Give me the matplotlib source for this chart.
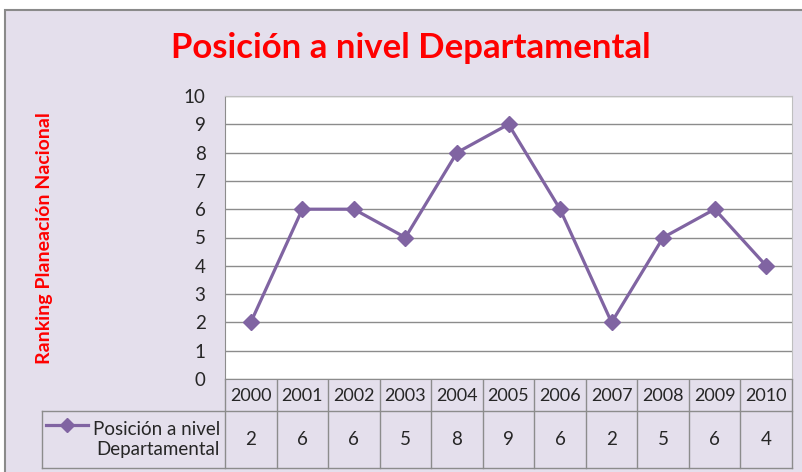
import matplotlib
matplotlib.use("Agg")
import matplotlib.pyplot as plt
from matplotlib.transforms import blended_transform_factory

years = ["2000", "2001", "2002", "2003", "2004", "2005", "2006", "2007", "2008", "2009", "2010"]
positions = [2, 6, 6, 5, 8, 9, 6, 2, 5, 6, 4]
series_name = "Posición a nivel\nDepartamental"
title = "Posición a nivel Departamental"
ylabel = "Ranking Planeación Nacional"
yticks = list(range(0, 11))

W, H = 802, 472
FONT = "Lato"
bg = "#E4DFEC"
purple = "#8064A2"
grid_c = "#8C8C8C"
txt_c = "#262626"

fig = plt.figure(figsize=(W / 100, H / 100), dpi=100)
fig.patch.set_facecolor("white")

# overlay in pixel coordinates
ov = fig.add_axes([0, 0, 1, 1], zorder=0)
ov.set_xlim(0, W)
ov.set_ylim(H, 0)
ov.axis("off")
ov.add_patch(plt.Rectangle((5, 10), W + 10, H + 10, facecolor=bg, edgecolor="#8a8a8a", lw=1.5))

# main plot
L, R, T, B = 225, 792, 96, 379
ax = fig.add_axes([L / W, (H - B) / H, (R - L) / W, (B - T) / H], zorder=2)
ax.set_facecolor("white")
x = list(range(len(years)))
ax.plot(x, positions, color=purple, lw=2.3, marker="D", ms=8.5, mec=purple, mfc=purple, zorder=3)
ax.set_xlim(-0.5, len(years) - 0.5)
ax.set_ylim(0, 10)
ax.set_yticks(yticks)
ax.set_yticklabels([str(v) for v in yticks], fontsize=13.5, family=FONT, color=txt_c)
ax.tick_params(axis="y", length=0, pad=14)
ax.tick_params(axis="x", bottom=False, labelbottom=False)
ax.set_xticks([])
ax.yaxis.grid(True, color=grid_c, lw=1)
ax.set_axisbelow(True)
for s in ["top", "right"]:
    ax.spines[s].set_color("#BFBFBF")
ax.spines["left"].set_color(grid_c)
ax.spines["bottom"].set_color(grid_c)

# data table
tr = blended_transform_factory(ax.transData, ov.transData)
row1_top, row1_bot, row2_bot = B, 411, 468
tab_left = 42
lw_t = 1.0
ov.plot([tab_left, R], [row1_bot, row1_bot], color=grid_c, lw=lw_t)
ov.plot([tab_left, R], [row2_bot, row2_bot], color=grid_c, lw=lw_t)
ov.plot([tab_left, tab_left], [row1_bot, row2_bot], color=grid_c, lw=lw_t)
for i in range(len(years) + 1):
    ov.plot([i - 0.5, i - 0.5], [row1_top, row2_bot], color=grid_c, lw=lw_t, transform=tr)
for i, (yr, v) in enumerate(zip(years, positions)):
    ov.text(i, (row1_top + row1_bot) / 2 + 1, yr, ha="center", va="center", fontsize=13,
            family=FONT, color=txt_c, transform=tr)
    ov.text(i, (row1_bot + row2_bot) / 2, str(v), ha="center", va="center", fontsize=13.5,
            family=FONT, color=txt_c, transform=tr)
# legend key
ov.plot([46, 88], [425, 425], color=purple, lw=2.3)
ov.plot([67], [425], marker="D", ms=7, color=purple)
ov.text(220, (row1_bot + row2_bot) / 2, series_name, ha="right", va="center", fontsize=13.5,
        family=FONT, color=txt_c, linespacing=1.25)

# title & y label
ov.text(411, 48, title, ha="center", va="center", fontsize=25, fontweight="bold",
        family=FONT, color="#FF0000")
ov.text(45, 238, ylabel, ha="center", va="center", rotation=90, fontsize=14,
        fontweight="bold", family=FONT, color="#FF0000")

fig.savefig("out.png", dpi=100)
